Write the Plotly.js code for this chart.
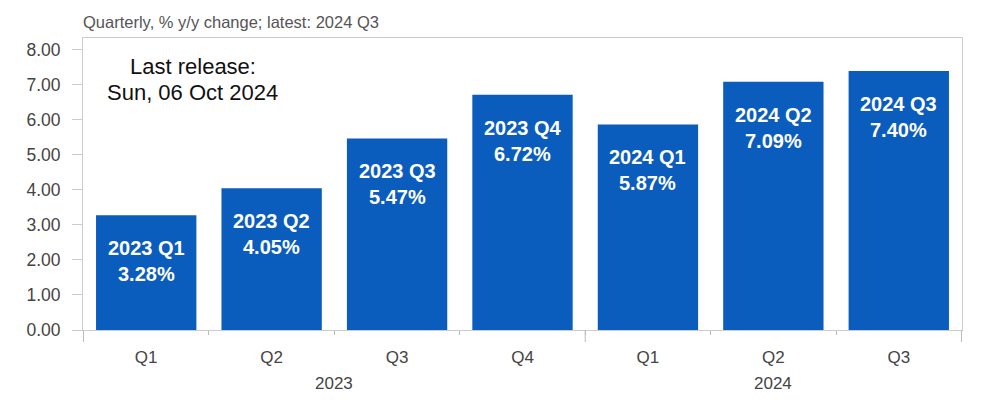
<!DOCTYPE html>
<html>
<head>
<meta charset="utf-8">
<script src="https://cdn.plot.ly/plotly-3.0.1.min.js"></script>
<style>html,body{margin:0;padding:0;background:#fff;}#chart{width:984px;height:416px;}</style>
</head>
<body>
<div id="chart"></div>
<script>
const years = ["2023","2023","2023","2023","2024","2024","2024"];
const quarters = ["Q1","Q2","Q3","Q4","Q1","Q2","Q3"];
const values = [3.28, 4.05, 5.47, 6.72, 5.87, 7.09, 7.40];
const titleText = "Quarterly, % y/y change; latest: 2024 Q3";
const releaseLines = ["Last release:", "Sun, 06 Oct 2024"];

const barColor = "#0a5cbd";
const fontFam = "Liberation Sans, Arial, sans-serif";

const cats = years.map((y, i) => y + " " + quarters[i]);

const trace = {
  type: "bar",
  x: cats,
  y: values,
  marker: {color: barColor},
  hoverinfo: "skip"
};

const labelAnnotations = values.map((v, i) => ({
  x: cats[i],
  y: v,
  xref: "x", yref: "y",
  text: "<b>" + cats[i] + "<br>" + v.toFixed(2) + "%</b>",
  showarrow: false,
  yanchor: "top",
  yshift: -20,
  font: {family: fontFam, size: 20, color: "#ffffff"},
  align: "center"
}));

const releaseAnnotations = releaseLines.map((t, i) => ({
  xref: "paper", yref: "paper",
  x: 0.125, y: [0.901, 0.815][i],
  xanchor: "center", yanchor: "middle",
  text: t,
  showarrow: false,
  font: {family: fontFam, size: 22, color: "#111"}
}));

// year group labels, centred under each group of quarters
const uniqueYears = [...new Set(years)];
const yearAnnotations = uniqueYears.map(yr => {
  const idx = years.map((y, i) => y === yr ? i : -1).filter(i => i >= 0);
  const mid = (idx[0] + idx[idx.length - 1]) / 2;
  return {
    xref: "x", yref: "paper", x: mid, y: 0,
    xanchor: "center", yanchor: "middle", yshift: -53,
    text: yr, showarrow: false,
    font: {family: fontFam, size: 17, color: "#444"}
  };
});

// longer divider ticks at year group boundaries
const boundaries = [-0.5];
uniqueYears.forEach(yr => { boundaries.push(years.lastIndexOf(yr) + 0.5); });
const dividerShapes = boundaries.map(b => ({
  type: "line", xref: "x", yref: "paper",
  x0: b, x1: b, y0: 0, y1: -12 / 292,
  line: {color: "#bbbbbb", width: 1}
}));

const layout = {
  width: 984, height: 416,
  margin: {l: 83, r: 22, t: 38, b: 86},
  paper_bgcolor: "#ffffff",
  plot_bgcolor: "#ffffff",
  bargap: 0.2,
  showlegend: false,
  font: {family: fontFam, color: "#444"},
  title: {
    text: titleText,
    x: 0, xref: "paper", xanchor: "left",
    y: 0.947, yref: "container", yanchor: "middle",
    font: {size: 16.5, color: "#555"}
  },
  xaxis: {
    type: "category",
    tickvals: cats,
    ticktext: quarters,
    showgrid: false,
    showline: true, linecolor: "#cccccc", linewidth: 1, mirror: true,
    ticks: "outside", ticklen: 4, tickcolor: "#bbbbbb",
    tickson: "boundaries",
    ticklabelstandoff: 12,
    tickfont: {size: 17, color: "#444"}
  },
  yaxis: {
    range: [0, 8.34],
    dtick: 1, tick0: 0,
    tickformat: ".2f",
    showgrid: false, zeroline: false,
    showline: true, linecolor: "#cccccc", linewidth: 1, mirror: true,
    ticks: "outside", ticklen: 10, tickcolor: "#cccccc",
    ticklabelstandoff: 8,
    tickfont: {size: 17.5, color: "#444"}
  },
  shapes: dividerShapes,
  annotations: labelAnnotations.concat(releaseAnnotations, yearAnnotations)
};

Plotly.newPlot("chart", [trace], layout, {displayModeBar: false, staticPlot: true});
</script>
</body>
</html>
